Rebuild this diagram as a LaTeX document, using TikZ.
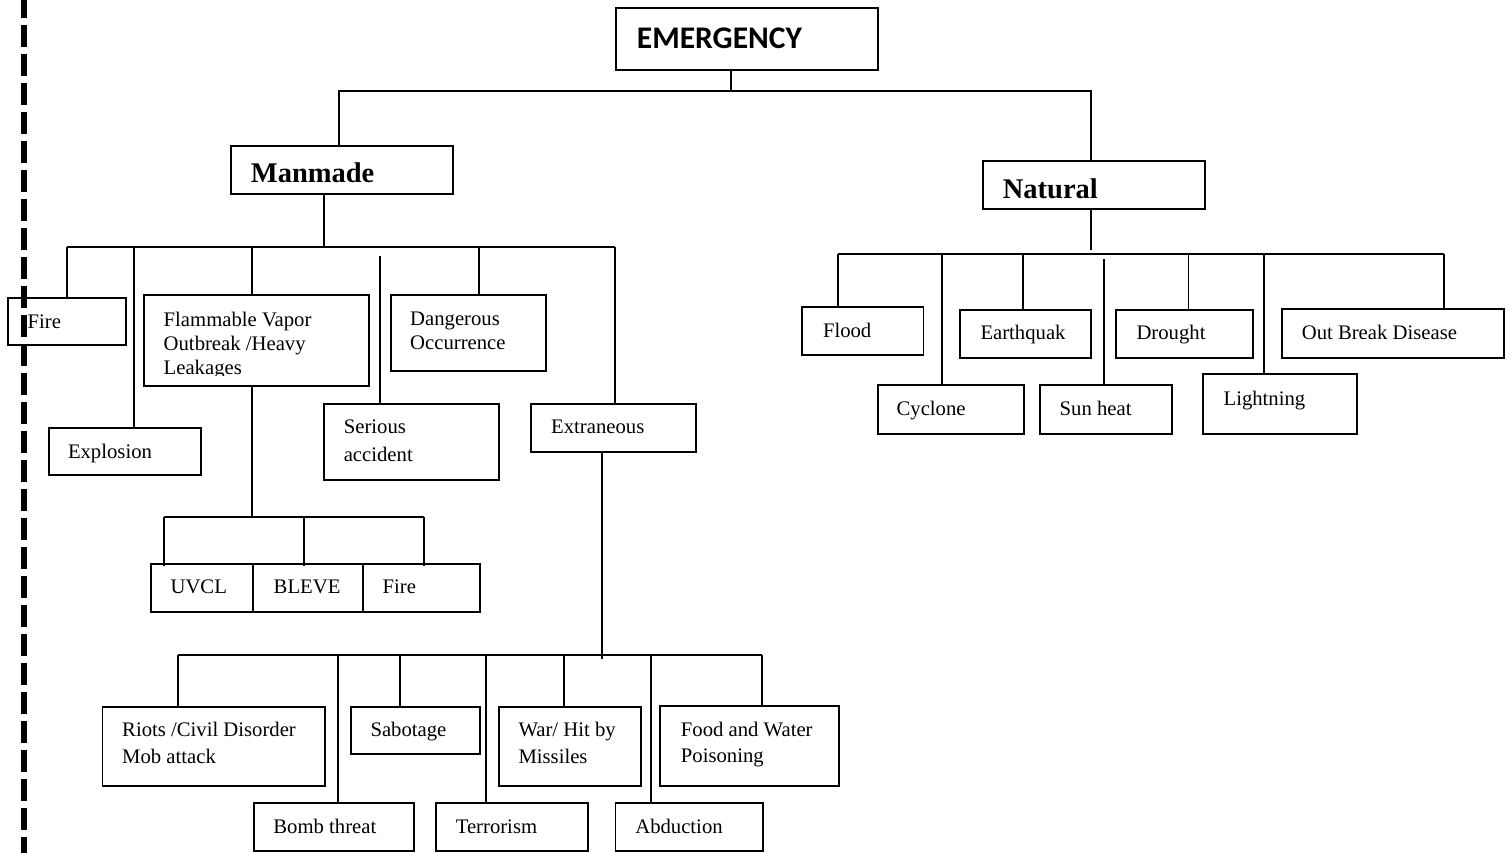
\documentclass[tikz,border=0pt]{standalone}
\usepackage{fontspec}
\setmainfont{Liberation Serif}
\newfontfamily\calfam{Carlito}
\begin{document}
\begin{tikzpicture}[x=1pt,y=-1pt,
  box/.style={draw, line width=1.9pt, inner sep=0pt, anchor=north west},
  lab/.style={inner sep=0pt, anchor=base west, align=left,
    font=\fontsize{20.7}{24.3}\selectfont},
  wire/.style={line width=1.9pt},
  vdash/.style={line width=6pt, dash pattern=on 22.7pt off 6.3pt, dash phase=4.4pt}]

\useasboundingbox (0,0) rectangle (1512,853);
\fill[white] (0,0) rectangle (1512,853);

% ---------- top levels ----------
\node[box, minimum width=261.7pt, minimum height=62.3pt] (em) at (615.3,6.7) {};
\node[lab, font=\calfam\bfseries\fontsize{31.5}{36}\selectfont] (em-t) at (636.7,48.3) {EMERGENCY};

\node[box, minimum width=222.3pt, minimum height=47.7pt] (mm) at (229.7,145) {};
\node[lab, font=\bfseries\fontsize{28.5}{32}\selectfont] (mm-t) at (250.7,182.7) {Manmade};

\node[box, minimum width=222.3pt, minimum height=47.7pt] (nat) at (981.7,160) {};
\node[lab, font=\bfseries\fontsize{28.5}{32}\selectfont] (nat-t) at (1002.7,198.3) {Natural};

\coordinate (t0) at (731,90.7);
\coordinate (tl) at (339,90.7);
\coordinate (tr) at (1090.7,90.7);
\draw[wire] (em.south -| t0) -- (t0);
\draw[wire] (mm.north -| tl) -- (tl) -- (tr) -- (nat.north -| tr);

% ---------- manmade branch ----------
% (multi-line labels are anchored at the baseline of their last line)
\node[box, minimum width=117.3pt, minimum height=47.6pt] (fire) at (7.3,296.7) {};
\node[lab] (fire-t) at (27.5,328.3) {Fire};

\node[box, minimum width=152.6pt, minimum height=47.6pt] (expl) at (47.6,426.7) {};
\node[lab] (expl-t) at (67.8,458.3) {Explosion};

\node[box, minimum width=225.4pt, minimum height=90.7pt] (flam) at (142.9,294.3) {};
\begin{scope}
  \clip (142.9,294.3) rectangle (368.3,375.6);
  \node[lab] (flam-t) at (163.5,374.6) {Flammable Vapor\\Outbreak /Heavy\\Leakages};
\end{scope}

\node[box, minimum width=155.3pt, minimum height=75.7pt] (dang) at (389.8,294.3) {};
\node[lab, font=\fontsize{20.7}{24}\selectfont] (dang-t) at (410,349) {Dangerous\\Occurrence};

\node[box, minimum width=175pt, minimum height=76pt] (ser) at (323,403.3) {};
\node[lab, font=\fontsize{20.7}{27.7}\selectfont] (ser-t) at (343.6,461) {Serious\\accident};

\node[box, minimum width=165.4pt, minimum height=48pt] (extr) at (530,403.3) {};
\node[lab] (extr-t) at (551,433.7) {Extraneous};

\coordinate (m0) at (324,247.3);
\coordinate (m1) at (67,247.3);
\coordinate (m2) at (133.8,247.3);
\coordinate (m3) at (252,247.3);
\coordinate (m4) at (380.2,256);
\coordinate (m5) at (479.2,247.3);
\coordinate (m6) at (615,247.3);
\draw[wire] (mm.south -| m0) -- (m0);
\draw[wire] (m1) -- (m6);
\draw[wire] (m1) -- (fire.north -| m1);
\draw[wire] (m2) -- (expl.north -| m2);
\draw[wire] (m3) -- (flam.north -| m3);
\draw[wire] (m4) -- (ser.north -| m4);
\draw[wire] (m5) -- (dang.north -| m5);
\draw[wire] (m6) -- (extr.north -| m6);

% flammable vapour sub-branch
\node[box, minimum width=102.6pt, minimum height=47.7pt] (uvcl) at (149.8,563.3) {};
\node[lab] (uvcl-t) at (170.4,593.3) {UVCL};
\node[box, minimum width=109.5pt, minimum height=47.7pt] (bleve) at (252.4,563.3) {};
\node[lab] (bleve-t) at (273.5,593.3) {BLEVE};
\node[box, minimum width=116.8pt, minimum height=47.7pt] (fire2) at (361.9,563.3) {};
\node[lab] (fire2-t) at (382.5,593.3) {Fire};

\coordinate (f0) at (252,516.7);
\coordinate (f1) at (164,516.7);
\coordinate (f2) at (304.2,516.7);
\coordinate (f3) at (423.7,516.7);
\draw[wire] (flam.south -| f0) -- (f0);
\draw[wire] (f1) -- (f3);
\draw[wire] (f1) -- ([yshift=-3pt]uvcl.north -| f1);
\draw[wire] (f2) -- ([yshift=-3pt]bleve.north -| f2);
\draw[wire] (f3) -- ([yshift=-3pt]fire2.north -| f3);

% extraneous sub-branch
\node[box, minimum width=222.1pt, minimum height=79pt] (riot) at (101.5,706) {};
\node[lab, font=\fontsize{20.7}{26.6}\selectfont] (riot-t) at (122,763.3) {Riots /Civil Disorder\\Mob attack};
\node[box, minimum width=128.7pt, minimum height=47.3pt] (sabo) at (350.2,706) {};
\node[lab] (sabo-t) at (370.3,736.7) {Sabotage};
\node[box, minimum width=142pt, minimum height=79pt] (war) at (497.7,706) {};
\node[lab, font=\fontsize{20.7}{26.6}\selectfont] (war-t) at (518.3,763.3) {War/ Hit by\\Missiles};
\node[box, minimum width=179pt, minimum height=80pt] (food) at (659.3,705) {};
\node[lab, font=\fontsize{20.7}{26}\selectfont] (food-t) at (680.7,762.7) {Food and Water\\Poisoning};
\node[box, minimum width=160.4pt, minimum height=47.7pt] (bomb) at (252.6,802.3) {};
\node[lab] (bomb-t) at (273.2,833.3) {Bomb threat};
\node[box, minimum width=152pt, minimum height=47.7pt] (terr) at (435,802.3) {};
\node[lab] (terr-t) at (455.6,833.3) {Terrorism};
\node[box, minimum width=147.1pt, minimum height=47.7pt] (abdu) at (614.5,802.3) {};
\node[lab] (abdu-t) at (635.1,833.3) {Abduction};

\coordinate (x0) at (601.7,655);
\coordinate (x1) at (178.4,655);
\coordinate (x2) at (338.3,655);
\coordinate (x3) at (400.1,655);
\coordinate (x4) at (486.2,655);
\coordinate (x5) at (563.7,655);
\coordinate (x6) at (651,655);
\coordinate (x7) at (762,655);
\draw[wire] (extr.south -| x0) -- ([yshift=-4pt]x0);
\draw[wire] (x1) -- (x7);
\draw[wire] (x1) -- (riot.north -| x1);
\draw[wire] (x2) -- (bomb.north -| x2);
\draw[wire] (x3) -- (sabo.north -| x3);
\draw[wire] (x4) -- (terr.north -| x4);
\draw[wire] (x5) -- (war.north -| x5);
\draw[wire] (x6) -- (abdu.north -| x6);
\draw[wire] (x7) -- (food.north -| x7);

% ---------- natural branch ----------
\node[box, minimum width=121.1pt, minimum height=48pt] (flood) at (801.4,306) {};
\node[lab] (flood-t) at (822.8,337) {Flood};
\node[box, minimum width=146.1pt, minimum height=48.4pt] (cycl) at (876.9,384.3) {};
\node[lab] (cycl-t) at (896.4,415) {Cyclone};
\node[box, minimum width=130.9pt, minimum height=47.7pt] (eq) at (959.3,309) {};
\node[lab] (eq-t) at (980.3,339) {Earthquak};
\node[box, minimum width=132pt, minimum height=48.4pt] (sun) at (1039,384.3) {};
\node[lab] (sun-t) at (1059.5,415) {Sun heat};
\node[box, minimum width=136.4pt, minimum height=47.7pt] (drou) at (1115.4,309) {};
\node[lab] (drou-t) at (1136.3,339) {Drought};
\node[box, minimum width=153.3pt, minimum height=60pt] (ltn) at (1202.4,372.7) {};
\node[lab] (ltn-t) at (1223.4,405) {Lightning};
\node[box, minimum width=222.2pt, minimum height=48.4pt] (obd) at (1280.7,308.3) {};
\node[lab] (obd-t) at (1301.6,339) {Out Break Disease};

\coordinate (n0) at (1090.7,254.3);
\coordinate (n1) at (837.8,254.3);
\coordinate (n2) at (942,254.3);
\coordinate (n3) at (1023.3,254.3);
\coordinate (n4) at (1104.3,259);
\coordinate (n5) at (1188.5,254.3);
\coordinate (n6) at (1264.4,254.3);
\coordinate (n7) at (1443.7,254.3);
\draw[wire] (nat.south -| n0) -- ([yshift=4pt]n0);
\draw[wire] (n1) -- (n7);
\draw[wire] (n1) -- (flood.north -| n1);
\draw[wire] (n2) -- (cycl.north -| n2);
\draw[wire] (n3) -- (eq.north -| n3);
\draw[wire] (n4) -- (sun.north -| n4);
\draw[wire] (n5) -- (drou.north -| n5);
\draw[wire] (n6) -- (ltn.north -| n6);
\draw[wire] (n7) -- (obd.north -| n7);

% ---------- margin rule ----------
\coordinate (r0) at (24,0);
\coordinate (r1) at (24,853);
\draw[vdash] (r0) -- (r1);
\end{tikzpicture}
\end{document}
